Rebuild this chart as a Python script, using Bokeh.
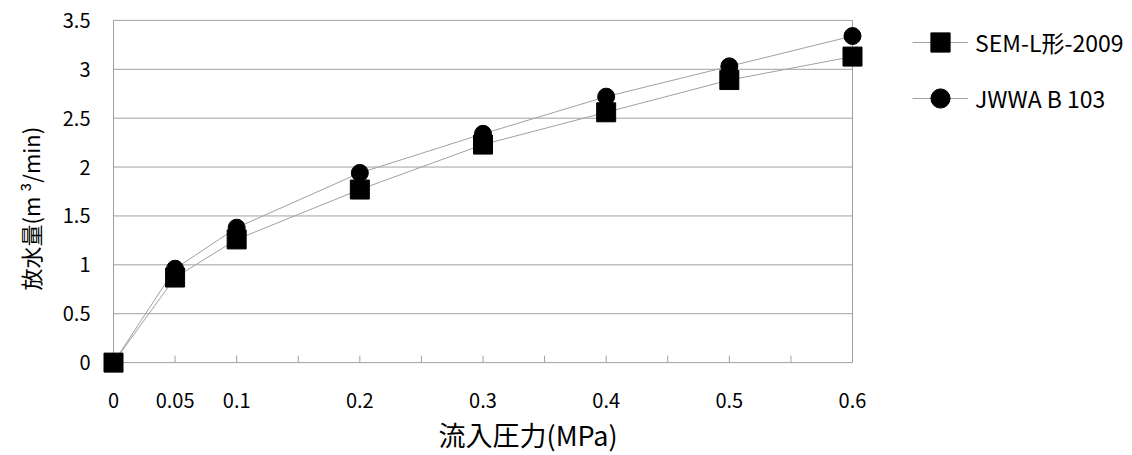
from bokeh.plotting import figure
from bokeh.models import FixedTicker, Legend, LegendItem, Title
from bokeh.embed import file_html
from bokeh.resources import INLINE

# ---- data ----
pressure = [0, 0.05, 0.1, 0.2, 0.3, 0.4, 0.5, 0.6]
sem_l_2009 = [0.0, 0.87, 1.26, 1.77, 2.23, 2.56, 2.89, 3.13]
jwwa_b103 = [0.0, 0.96, 1.38, 1.94, 2.34, 2.72, 3.03, 3.34]
series_names = ["SEM-L形-2009", "JWWA B 103"]

x_major_ticks = [0, 0.05, 0.1, 0.2, 0.3, 0.4, 0.5, 0.6]
x_major_labels = ["0", "0.05", "0.1", "0.2", "0.3", "0.4", "0.5", "0.6"]
x_minor_ticks = [0.15, 0.25, 0.35, 0.45, 0.55]
y_ticks = [0, 0.5, 1, 1.5, 2, 2.5, 3, 3.5]
y_tick_labels = ["0", "0.5", "1", "1.5", "2", "2.5", "3", "3.5"]

x_title = "流入圧力(MPa)"
y_title = "放水量(m ³/min)"

FONT = "Noto Sans CJK JP"
GREY = "#a0a0a0"

# ---- geometry (pixels) ----
W, H = 1132, 455
PAD = 12                       # frame padding so edge markers are not clipped
LEFT, TOP, BOTTOM = 113 - PAD, 20 - PAD, 455 - (365 + PAD)
plot_w, plot_h = 739, 345      # size of the 0..0.6 x 0..3.5 area

x_lo, x_hi = x_major_ticks[0], x_major_ticks[-1]
y_lo, y_hi = y_ticks[0], y_ticks[-1]
px_x = plot_w / (x_hi - x_lo)
px_y = plot_h / (y_hi - y_lo)
frame_w = W - LEFT
frame_h = H - TOP - BOTTOM
x_start = x_lo - PAD / px_x
x_end = x_start + frame_w / px_x
y_start = y_lo - PAD / px_y
y_end = y_start + frame_h / px_y

p = figure(width=W, height=H, output_backend="svg", toolbar_location=None,
           x_range=(x_start, x_end), y_range=(y_start, y_end),
           min_border_left=LEFT, min_border_right=0,
           min_border_top=TOP, min_border_bottom=BOTTOM)

p.background_fill_color = "white"
p.border_fill_color = "white"
p.outline_line_color = None
p.xgrid.visible = False
p.ygrid.visible = False

# horizontal grid lines (incl. x-axis line at 0 and top border)
n = len(y_ticks)
p.segment(x0=[x_lo] * n, y0=y_ticks, x1=[x_hi] * n, y1=y_ticks,
          line_color=GREY, line_width=1, level="underlay")
# y-axis line and right border
p.segment(x0=[x_lo, x_hi], y0=[y_lo, y_lo], x1=[x_lo, x_hi], y1=[y_hi, y_hi],
          line_color=GREY, line_width=1, level="underlay")
# x tick marks pointing inward (7 px)
all_xt = x_major_ticks + x_minor_ticks
tick_len = 7 / px_y
p.segment(x0=all_xt, y0=[y_lo] * len(all_xt), x1=all_xt,
          y1=[y_lo + tick_len] * len(all_xt),
          line_color=GREY, line_width=1, level="underlay")

# x axis (labels only)
xa = p.xaxis[0]
xa.ticker = FixedTicker(ticks=x_major_ticks)
xa.major_label_overrides = {t: l for t, l in zip(x_major_ticks, x_major_labels)}
xa.axis_line_color = None
xa.major_tick_line_color = None
xa.minor_tick_line_color = None
xa.major_tick_in = 0
xa.major_tick_out = 0
xa.minor_tick_in = 0
xa.minor_tick_out = 0
xa.major_label_standoff = 18
xa.major_label_text_font = FONT
xa.major_label_text_font_size = "20px"
xa.major_label_text_color = "black"

# x title placed under the plot area
xt = Title(text=x_title, align="left", offset=337, standoff=4,
           text_font=FONT, text_font_size="27px", text_font_style="normal",
           text_color="black")
p.add_layout(xt, "below")

# y axis (labels only)
ya = p.yaxis[0]
ya.ticker = FixedTicker(ticks=y_ticks)
ya.major_label_overrides = {t: l for t, l in zip(y_ticks, y_tick_labels)}
ya.axis_line_color = None
ya.major_tick_line_color = None
ya.minor_tick_line_color = None
ya.major_tick_in = 0
ya.major_tick_out = 0
ya.major_label_standoff = 11
ya.major_label_text_font = FONT
ya.major_label_text_font_size = "20px"
ya.major_label_text_color = "black"

# y title, positioned along the left side
yt = Title(text=y_title, align="left", offset=84, standoff=24,
           vertical_align="top",
           text_font=FONT, text_font_size="22px", text_font_style="normal",
           text_color="black")
p.add_layout(yt, "left")

# series
l1 = p.line(pressure, sem_l_2009, line_color=GREY, line_width=1)
l2 = p.line(pressure, jwwa_b103, line_color=GREY, line_width=1)
m1 = p.scatter(pressure, sem_l_2009, marker="square", size=19,
               fill_color="black", line_color="black", level="overlay")
m2 = p.scatter(pressure, jwwa_b103, marker="circle", size=17,
               fill_color="black", line_color="black", level="overlay")

legend = Legend(items=[LegendItem(label=series_names[0], renderers=[l1, m1]),
                       LegendItem(label=series_names[1], renderers=[l2, m2])],
                location=(811, 252))
legend.glyph_width = 56
legend.glyph_height = 48
legend.spacing = 8
legend.padding = 0
legend.margin = 0
legend.label_standoff = 7
legend.label_text_font = FONT
legend.label_text_font_size = "23px"
legend.label_text_color = "black"
legend.border_line_color = None
legend.background_fill_alpha = 0
p.add_layout(legend, "center")

open("out.html", "w").write(file_html(p, INLINE))
